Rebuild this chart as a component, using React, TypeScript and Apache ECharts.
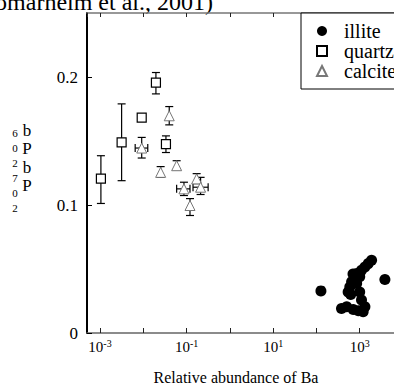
import React, { useEffect, useRef } from 'react';
import * as echarts from 'echarts';

// ---- data ----
const illiteX = [127, 3820, 1880, 1575, 1320, 1100, 850, 780, 650, 590, 540, 850, 1000, 1100, 380, 500, 710, 930, 1200, 1320, 1000, 700, 620];
const illiteY = [0.0329, 0.0418, 0.0568, 0.0542, 0.0516, 0.049, 0.0464, 0.0426, 0.04, 0.036, 0.0321, 0.0387, 0.0321, 0.0257, 0.0192, 0.0205, 0.0184, 0.0174, 0.0166, 0.0205, 0.044, 0.046, 0.03];

const quartzX = [0.00105, 0.00316, 0.0092, 0.0196, 0.0334];
const quartzY = [0.1206, 0.1489, 0.1683, 0.1956, 0.1476];
const quartzYLo = [0.1012, 0.119, null, 0.1868, 0.141];
const quartzYHi = [0.1385, 0.179, null, 0.2035, 0.154];

const calciteX = [0.0092, 0.0398, 0.0252, 0.059, 0.087, 0.171, 0.211, 0.12];
const calciteY = [0.1445, 0.1697, 0.1255, 0.1307, 0.1126, 0.1204, 0.1139, 0.0996];
const calciteYLo = [0.1367, 0.1626, 0.1216, 0.1276, 0.1074, 0.1167, 0.1082, 0.0918];
const calciteYHi = [0.1528, 0.1769, 0.13, 0.1346, 0.1178, 0.1245, 0.1216, 0.105];
const calciteXLo = [0.0065, null, null, null, 0.059, null, 0.141, null];
const calciteXHi = [0.0127, null, null, null, 0.12, null, 0.315, null];

const seriesNames = ['illite', 'quartz', 'calcite'];
const yTicks = [0, 0.1, 0.2];
const titleText = 'omarheim et al., 2001)';
const xAxisName = 'Relative abundance of Ba';
const yLabelDigits = ['6', '0', '2', '7', '0', '2'];
const yLabelLetters = ['b', 'P', 'b', 'P'];

const serif = 'Liberation Serif';

export default function App() {
  const ref = useRef<HTMLDivElement>(null);
  useEffect(() => {
    const chart = echarts.init(ref.current!, null, { renderer: 'svg' });

    const xMin = Math.pow(10, -3.3);
    const xMax = 1e4;

    const vErr: number[][] = [];
    quartzX.forEach((x, i) => {
      if (quartzYLo[i] != null) vErr.push([x, quartzYLo[i] as number, quartzYHi[i] as number]);
    });
    calciteX.forEach((x, i) => {
      vErr.push([x, calciteYLo[i], calciteYHi[i]]);
    });
    const hErr: number[][] = [];
    calciteX.forEach((x, i) => {
      if (calciteXLo[i] != null) hErr.push([calciteXLo[i] as number, calciteXHi[i] as number, calciteY[i]]);
    });

    const cap = 4;
    const lineStyle = { stroke: '#000', lineWidth: 1.2 };

    const renderV = (params: any, api: any) => {
      const a = api.coord([api.value(0), api.value(1)]);
      const b = api.coord([api.value(0), api.value(2)]);
      return {
        type: 'group',
        children: [
          { type: 'line', shape: { x1: a[0], y1: a[1], x2: b[0], y2: b[1] }, style: lineStyle },
          { type: 'line', shape: { x1: a[0] - cap, y1: a[1], x2: a[0] + cap, y2: a[1] }, style: lineStyle },
          { type: 'line', shape: { x1: b[0] - cap, y1: b[1], x2: b[0] + cap, y2: b[1] }, style: lineStyle },
        ],
      };
    };
    const renderH = (params: any, api: any) => {
      const a = api.coord([api.value(0), api.value(2)]);
      const b = api.coord([api.value(1), api.value(2)]);
      return {
        type: 'group',
        children: [
          { type: 'line', shape: { x1: a[0], y1: a[1], x2: b[0], y2: b[1] }, style: lineStyle },
          { type: 'line', shape: { x1: a[0], y1: a[1] - cap, x2: a[0], y2: a[1] + cap }, style: lineStyle },
          { type: 'line', shape: { x1: b[0], y1: b[1] - cap, x2: b[0], y2: b[1] + cap }, style: lineStyle },
        ],
      };
    };

    const xLabelFormatter = (v: number) => {
      const e = Math.log10(v);
      const r = Math.round(e);
      if (Math.abs(e - r) > 1e-6) return '';
      if (Math.abs(r) % 2 !== 1) return '';
      return '{b|10}{s|' + r + '}';
    };

    const digitYs = [133, 148, 163, 178, 193, 208];
    const letterYs = [130, 148, 167, 185];

    const graphics: any[] = [
      {
        type: 'text',
        x: 213,
        y: 2,
        style: { text: titleText, fontFamily: serif, fontSize: 24, fill: '#000', align: 'right', verticalAlign: 'middle' },
      },
      {
        type: 'text',
        x: 236,
        y: 377,
        style: { text: xAxisName, fontFamily: serif, fontSize: 16, fill: '#000', align: 'center', verticalAlign: 'middle' },
      },
    ];
    yLabelDigits.forEach((d, i) => {
      graphics.push({
        type: 'text', x: 15, y: digitYs[i],
        style: { text: d, fontFamily: serif, fontSize: 11, fill: '#000', align: 'center', verticalAlign: 'middle' },
      });
    });
    yLabelLetters.forEach((d, i) => {
      graphics.push({
        type: 'text', x: 27, y: letterYs[i],
        style: { text: d, fontFamily: serif, fontSize: 17, lineHeight: 17, fill: '#000', align: 'center', verticalAlign: 'middle' },
      });
    });

    const xAxisCommon = {
      type: 'log',
      logBase: 10,
      min: xMin,
      max: xMax,
      splitLine: { show: false },
      minorTick: { show: false },
    };

    chart.setOption({
      animation: false,
      backgroundColor: '#fff',
      grid: { left: 87, top: 13, width: 316, height: 320, outerBoundsMode: 'none', containLabel: false },
      legend: {
        data: [
          { name: seriesNames[0], icon: 'circle' },
          { name: seriesNames[1], icon: 'rect' },
          { name: seriesNames[2], icon: 'triangle' },
        ],
        orient: 'vertical',
        left: 301,
        top: 13,
        padding: [8, 40, 8, 15],
        itemWidth: 10,
        itemHeight: 10,
        itemGap: 0,
        borderColor: '#000',
        borderWidth: 1,
        borderRadius: 0,
        backgroundColor: '#fff',
        selectedMode: false,
        textStyle: { fontFamily: serif, fontSize: 20, lineHeight: 20, color: '#000', padding: [0, 0, 0, 12] },
        z: 10,
      },
      xAxis: [
        {
          ...xAxisCommon,
          position: 'bottom',
          axisLine: { show: true, lineStyle: { color: '#666', width: 1.5 } },
          axisTick: { show: true, inside: true, length: 5, lineStyle: { color: '#222', width: 1 } },
          axisLabel: {
            show: true,
            margin: 5,
            showMinLabel: false,
            showMaxLabel: false,
            formatter: xLabelFormatter,
            rich: {
              b: { fontFamily: serif, fontSize: 15, color: '#000', lineHeight: 17 },
              s: { fontFamily: serif, fontSize: 10, color: '#000', verticalAlign: 'top', lineHeight: 10 },
            },
          },
        },
        {
          ...xAxisCommon,
          position: 'top',
          axisLine: { show: true, lineStyle: { color: '#777', width: 1.5 } },
          axisTick: { show: true, inside: true, length: 4, lineStyle: { color: '#222', width: 1 } },
          axisLabel: { show: false },
        },
      ],
      yAxis: {
        type: 'value',
        min: 0,
        max: 0.25,
        interval: 0.1,
        splitLine: { show: false },
        axisLine: { show: true, lineStyle: { color: '#000', width: 2 } },
        axisTick: { show: true, inside: true, length: 5, lineStyle: { color: '#000', width: 1 } },
        axisLabel: {
          show: true,
          margin: 9,
          showMaxLabel: false,
          fontFamily: serif,
          fontSize: 17,
          color: '#000',
          formatter: (v: number) => (yTicks.some((t) => Math.abs(t - v) < 1e-9) ? String(+v.toFixed(2)) : ''),
        },
      },
      graphic: graphics,
      series: [
        {
          type: 'custom',
          name: 'vErr',
          renderItem: renderV,
          data: vErr,
          encode: { x: 0, y: [1, 2] },
          z: 2,
          silent: true,
        },
        {
          type: 'custom',
          name: 'hErr',
          renderItem: renderH,
          data: hErr,
          encode: { x: [0, 1], y: 2 },
          z: 2,
          silent: true,
        },
        {
          type: 'scatter',
          name: seriesNames[0],
          symbol: 'circle',
          symbolSize: 11,
          itemStyle: { color: '#000', opacity: 1 },
          data: illiteX.map((x, i) => [x, illiteY[i]]),
          z: 3,
        },
        {
          type: 'scatter',
          name: seriesNames[1],
          symbol: 'rect',
          symbolSize: 9,
          itemStyle: { color: '#fff', borderColor: '#000', borderWidth: 1.2, opacity: 1 },
          data: quartzX.map((x, i) => [x, quartzY[i]]),
          z: 4,
        },
        {
          type: 'scatter',
          name: seriesNames[2],
          symbol: 'triangle',
          symbolSize: 10,
          itemStyle: { color: '#fff', borderColor: '#777', borderWidth: 1, opacity: 1 },
          data: calciteX.map((x, i) => [x, calciteY[i]]),
          z: 4,
        },
      ],
    });
    return () => chart.dispose();
  }, []);

  return (
    <div style={{ position: 'fixed', left: 0, top: 0, width: 394, height: 384, overflow: 'hidden', background: '#fff' }}>
      <div ref={ref} style={{ width: 430, height: 384 }} />
    </div>
  );
}
